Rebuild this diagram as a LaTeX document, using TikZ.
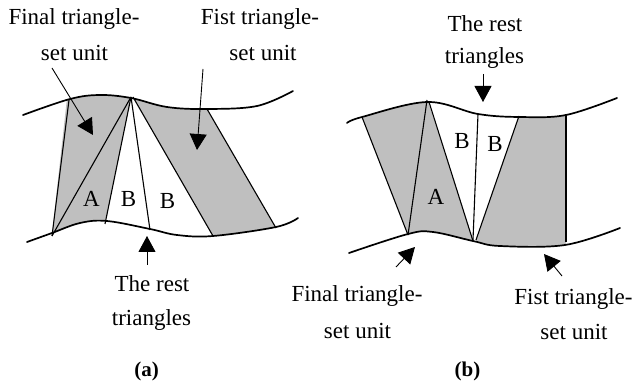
\documentclass[tikz,border=0pt]{standalone}
\usepackage{fontspec}
\setmainfont{Liberation Serif}
\usetikzlibrary{arrows.meta}
\tikzset{
  lbl/.style={inner sep=0pt,anchor=base,font=\fontsize{23}{25}\selectfont},
  captionlbl/.style={inner sep=0pt,anchor=base,font=\fontsize{21}{23}\selectfont\bfseries},
  rim/.style={line width=1.7pt,line cap=round},
  tri/.style={line width=1.1pt},
  greyfill/.style={fill=black!25},
  pointer/.style={line width=0.9pt,-{Triangle[length=16pt,width=17pt]}}
}
\def\LT{(23,115) (70,99) (100,95) (131,98) (167,107) (207,109) (257,106) (293,91)}
\def\LB{(298,218) (276,227) (213,236) (177,235) (150,229) (107,221) (80,223) (52,233) (27,242)}
\def\LBf{(27,242) (52,233) (80,223) (107,221) (150,229) (177,235) (213,236) (276,227) (298,218)}
\def\RT{(347,123) (362,117) (427,102) (478,114) (520,117) (566,115) (617,98)}
\def\RB{(620,228) (565,245) (500,246) (473,241) (433,232) (408,234) (349,253)}
\def\RBf{(349,253) (408,234) (433,232) (473,241) (500,246) (565,245) (620,228)}
\begin{document}
\begin{tikzpicture}[x=1pt,y=-1pt]
\useasboundingbox (0,0) rectangle (633,385);
% left shading
\begin{scope}
  \clip (69,80) -- (131,80) -- (131,97) -- (105,224) -- (105,250) -- (52,250) -- (52,234) -- cycle;
  \fill[greyfill] plot[smooth,tension=0.6] coordinates {\LT} -- plot[smooth,tension=0.6] coordinates {\LB} -- cycle;
\end{scope}
\begin{scope}
  \clip (133,80) -- (207,80) -- (207,109) -- (276,228) -- (276,250) -- (213,250) -- (213,236) -- (133,97) -- cycle;
  \fill[greyfill] plot[smooth,tension=0.6] coordinates {\LT} -- plot[smooth,tension=0.6] coordinates {\LB} -- cycle;
\end{scope}
% right shading
\begin{scope}
  \clip (362,90) -- (428,90) -- (428,101) -- (473,241) -- (473,260) -- (408,260) -- (408,235) -- (362,117) -- cycle;
  \fill[greyfill] plot[smooth,tension=0.6] coordinates {\RT} -- plot[smooth,tension=0.6] coordinates {\RB} -- cycle;
\end{scope}
\begin{scope}
  \clip (519,90) -- (566,90) -- (566,260) -- (476,260) -- (476,241) -- (519,116) -- cycle;
  \fill[greyfill] plot[smooth,tension=0.6] coordinates {\RT} -- plot[smooth,tension=0.6] coordinates {\RB} -- cycle;
\end{scope}
% named vertices
\coordinate (la) at (69,100); \coordinate (lb) at (131,97); \coordinate (lc) at (133,97);
\coordinate (ld) at (207,109); \coordinate (le) at (52,236); \coordinate (lf) at (105,224);
\coordinate (lg) at (150,230); \coordinate (lh) at (213,236); \coordinate (li) at (276,228);
\coordinate (ra) at (362,117); \coordinate (rb) at (427,100); \coordinate (rc) at (429,102);
\coordinate (rd) at (478,114); \coordinate (re) at (519,116); \coordinate (rf) at (566,114);
\coordinate (rg) at (408,235); \coordinate (rh) at (473,241); \coordinate (ri) at (473,240);
\coordinate (rj) at (476,240); \coordinate (rk) at (566,242);
\draw[tri] (la) -- (le);
\draw[tri] (lb) -- (le);
\draw[tri] (lb) -- (lf);
\draw[tri] (lb) -- (lg);
\draw[tri] (lc) -- (lh);
\draw[tri] (ld) -- (li);
\draw[tri] (ra) -- (rg);
\draw[tri] (rb) -- (rg);
\draw[tri] (rc) -- (rh);
\draw[tri] (rd) -- (ri);
\draw[tri] (re) -- (rj);
\draw[tri] (rf) -- (rk);
% boundary curves
\draw[rim] plot[smooth,tension=0.6] coordinates {\LT};
\draw[rim] plot[smooth,tension=0.6] coordinates {\LBf};
\draw[rim] plot[smooth,tension=0.6] coordinates {\RT};
\draw[rim] plot[smooth,tension=0.6] coordinates {\RBf};
% labels
\node[lbl] (t1) at (74,25) {Final triangle-};
\node[lbl] (t2) at (74.5,61) {set unit};
\node[lbl] (t3) at (260,25) {Fist triangle-};
\node[lbl] (t4) at (263,61) {set unit};
\node[lbl] (t5) at (152,292) {The rest};
\node[lbl] (t6) at (151.5,326) {triangles};
\node[lbl] (t7) at (485,32) {The rest};
\node[lbl] (t8) at (484.5,64) {triangles};
\node[lbl] (t9) at (357,302) {Final triangle-};
\node[lbl] (t10) at (357.5,338) {set unit};
\node[lbl] (t11) at (573.5,305) {Fist triangle-};
\node[lbl] (t12) at (574,340) {set unit};
\node[lbl] (a1) at (91.5,207) {A};
\node[lbl] (b1) at (128.5,207) {B};
\node[lbl] (b2) at (167.5,209) {B};
\node[lbl] (a2) at (436,205) {A};
\node[lbl] (b3) at (462,149) {B};
\node[lbl] (b4) at (495,152) {B};
\node[captionlbl] (ca) at (146.5,377) {(a)};
\node[captionlbl] (cb) at (467.5,377) {(b)};
% pointers
\coordinate (p1s) at (52,68); \coordinate (p1e) at (93,135);
\coordinate (p2s) at (203,69); \coordinate (p2e) at (197,150);
\coordinate (p3s) at (147,265); \coordinate (p3e) at (147,236);
\coordinate (p4s) at (483,74); \coordinate (p4e) at (483,102);
\coordinate (p5s) at (396,267); \coordinate (p5e) at (415,247);
\coordinate (p6s) at (562,276); \coordinate (p6e) at (544,254);
\draw[pointer] (p1s) -- (p1e);
\draw[pointer] (p2s) -- (p2e);
\draw[pointer] (p3s) -- (p3e);
\draw[pointer] (p4s) -- (p4e);
\draw[pointer] (p5s) -- (p5e);
\draw[pointer] (p6s) -- (p6e);
\end{tikzpicture}
\end{document}
